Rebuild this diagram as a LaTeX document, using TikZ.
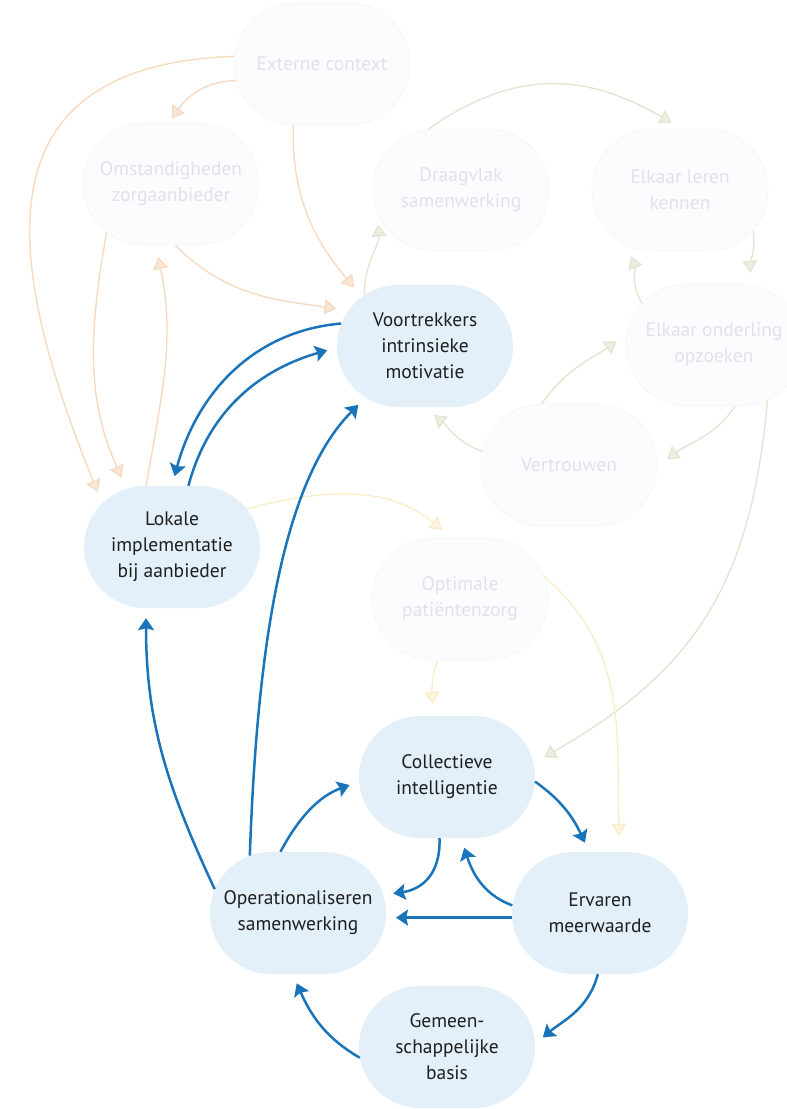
\documentclass[tikz,border=0pt]{standalone}
\usepackage{fontspec}
\setmainfont{PT Sans}
\usepackage{tikz}
\usetikzlibrary {arrows.meta,
                 calc,
                 positioning,
                 shapes.misc}
\definecolor{nodeblue}{HTML}{E3EFF9}
\definecolor{linkblue}{HTML}{1A74BA}
\definecolor{fadefill}{HTML}{FBFCFE}
\definecolor{fadeedge}{HTML}{F2F5F8}
\definecolor{fadetext}{HTML}{E0E3E6}
\definecolor{fadeorange}{HTML}{F6DAC1}
\definecolor{orangetip}{HTML}{F9E6D5}
\definecolor{fadegreen}{HTML}{E3E5D2}
\definecolor{greentip}{HTML}{EDEEE1}
\definecolor{fadeyellow}{HTML}{FAEDCB}
\definecolor{yellowtip}{HTML}{FCF4DF}
\tikzset{
        bubble/.style={rounded rectangle, minimum width=176pt,
                       minimum height=122pt, inner sep=0pt, align=center,
                       font=\fontsize{19.5}{26}\selectfont},
        active/.style={bubble, fill=nodeblue, text=black!88},
        faded/.style={bubble, fill=fadefill, draw=fadeedge, line width=0.6pt,
                      text=fadetext},
        myarrow/.style={-{Stealth[length=12pt, width=16pt, inset=2pt]},
                        line width=2.5pt, draw=linkblue, shorten >=10pt},
        pale/.style={line width=1.4pt, shorten >=12pt},
        orangearrow/.style={pale, draw=fadeorange,
                            -{Triangle[length=12pt, width=15pt, fill=orangetip]}},
        greenarrow/.style={pale, draw=fadegreen,
                           -{Triangle[length=12pt, width=15pt, fill=greentip]}},
        yellowarrow/.style={pale, draw=fadeyellow,
                            -{Triangle[length=12pt, width=15pt, fill=yellowtip]}},
 }

\begin{document}
\begin{tikzpicture}[x=1pt, y=1pt]
    \useasboundingbox (0,0) rectangle (787,-1109);

    % faded part
    \node[faded] (ext) at (322,-64) {Externe context};
    \node[faded] (omst) at (171,-184) {Omstandigheden\\zorgaanbieder};
    \node[faded] (draag) at (461,-190) {Draagvlak\\samenwerking};
    \node[faded] (leren) at (680,-190) {Elkaar leren\\kennen};
    \node[faded] (opz) at (714,-345) {Elkaar onderling\\opzoeken};
    \node[faded] (vertr) at (569,-465) {Vertrouwen};
    \node[faded] (zorg) at (460,-599) {Optimale\\patiëntenzorg};

    % active part
    \node[active] (voor) at (425,-346) {Voortrekkers\\intrinsieke\\motivatie};
    \node[active] (lok) at (172,-547) {Lokale\\implementatie\\bij aanbieder};
    \node[active] (coll) at (447,-777) {Collectieve\\intelligentie};
    \node[active] (oper) at (298,-913) {Operationaliseren\\samenwerking};
    \node[active] (erv) at (600,-913) {Ervaren\\meerwaarde};
    \node[active] (gem) at (447,-1047) {Gemeen-\\schappelijke\\basis};

    \draw[orangearrow] (ext.175) to[out=182, in=112, out distance=260pt,
                                    in distance=260pt] (lok.148);
    \draw[orangearrow, shorten >=5pt] (ext.191) to[out=180, in=55] (omst.92);
    \draw[orangearrow] (ext.245) to[out=-92, in=130] (voor.142);
    \draw[orangearrow] (omst.-86) to[out=-45, in=172] (voor.155);
    \draw[orangearrow] (omst.217) to[out=-100, in=114] (lok.128);
    \draw[orangearrow] (lok.113) to[out=80, in=-78] (omst.256);

    \draw[greenarrow] (voor.140) to[out=90, in=-85] (draag.195);
    \draw[greenarrow] (draag.118) to[out=35, in=150, looseness=1.1] (leren.88);
    \draw[greenarrow] (leren.-29) to[out=-82, in=95] (opz.58);
    \draw[greenarrow] (opz.150) to[out=120, in=-68] (leren.226);
    \draw[greenarrow] (vertr.114) to[out=55, in=215] (opz.173);
    \draw[greenarrow] (opz.-71) to[out=-125, in=37] (vertr.-1);
    \draw[greenarrow] (vertr.171) to[out=160, in=-40] (voor.-90);
    \draw[greenarrow] (opz.-46) to[out=-95, in=30, looseness=1.1] (coll.9);

    \draw[yellowarrow] (lok.27) to[out=15, in=140] (zorg.98);
    \draw[yellowarrow] (zorg.250) to[out=-110, in=95] (coll.102);
    \draw[yellowarrow, shorten >=16pt] (zorg.15) to[out=-40, in=92] (erv.72);

    \draw[myarrow] (voor.165) to[out=185, in=75] (lok.90);
    \draw[myarrow] (lok.75) to[out=75, in=196] (voor.181);
    \draw[myarrow] (oper.130) to[out=88, in=225, out distance=200pt,
                                 in distance=120pt] (voor.221);
    \draw[myarrow] (oper.164) to[out=115, in=-90] (lok.-113);
    \draw[myarrow] (oper.106) to[out=62, in=200] (coll.183);
    \draw[myarrow] (coll.-3) to[out=-35, in=115] (erv.100);
    \draw[myarrow] (coll.-97) to[out=-88, in=8, looseness=1.2] (oper.12);
    \draw[myarrow] (erv.175) to[out=160, in=-72] (coll.283);
    \draw[myarrow] (erv.183) -- (oper.-3);
    \draw[myarrow] (erv.-92) to[out=-105, in=40] (gem.2);
    \draw[myarrow] (gem.187) to[out=150, in=-66] (oper.265);
\end{tikzpicture}
\end{document}
